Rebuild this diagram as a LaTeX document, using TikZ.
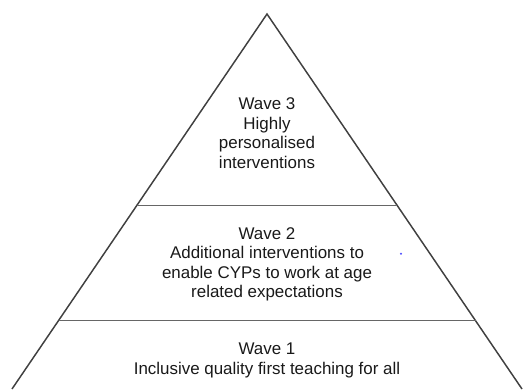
\documentclass[tikz,border=0pt]{standalone}
\usepackage{fontspec}
\setmainfont{Liberation Sans}
\begin{document}
\begin{tikzpicture}[x=0.75pt,y=-0.75pt,
  side/.style={draw=black!75,line width=1.1pt},
  divider/.style={draw=black!60,line width=1.1pt},
  label/.style={align=center,inner sep=0pt,anchor=base,text=black!90,
    font=\fontsize{12.7pt}{14.6pt}\selectfont}]
\useasboundingbox (0,0) rectangle (523,389);
\coordinate (apex) at (267,14);
\coordinate (bl) at (12,389);
\coordinate (br) at (522,389);
\coordinate (l2) at (136.9,205.5);
\coordinate (r2) at (397.4,205.5);
\coordinate (l1) at (58.5,320.5);
\coordinate (r1) at (475.6,320.5);
\draw[side] (bl) -- (apex) -- (br);
\draw[divider] (l2) -- (r2);
\draw[divider] (l1) -- (r1);
\node[label] (w3) at (267,168) {Wave 3\\Highly\\personalised\\interventions};
\node[label] (w2) at (267,297.7) {Wave 2\\Additional interventions to\\enable CYPs to work at age\\related expectations};
\node[label] (w1) at (267,374.3) {Wave 1\\Inclusive quality first teaching for all};
\fill[blue!70] (401,253.7) circle[radius=1.1];
\end{tikzpicture}
\end{document}
